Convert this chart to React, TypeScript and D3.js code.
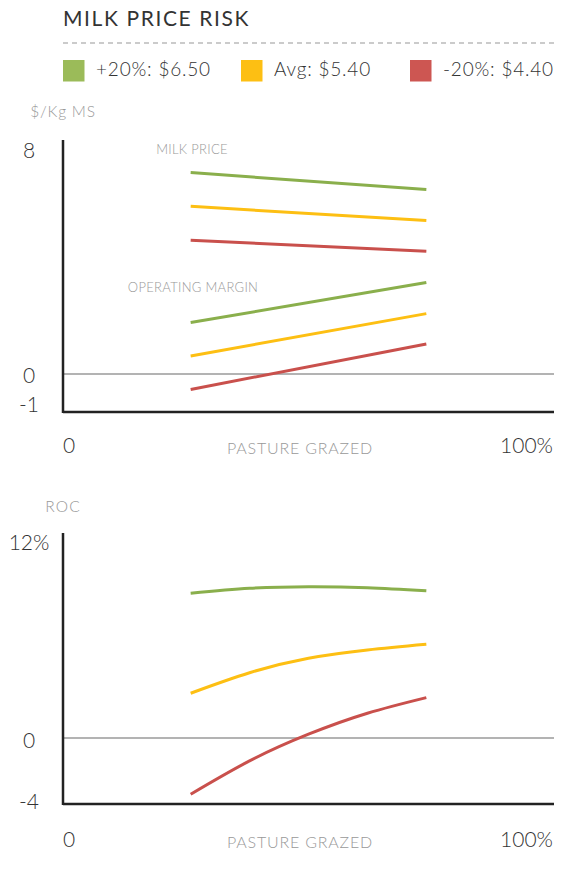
import React from "react";
import * as d3 from "d3";

const seriesNames = ["+20%: $6.50", "Avg: $5.40", "-20%: $4.40"];
const seriesColors = ["#9bbb59", "#fdbf13", "#cd5652"];
const lineColors = ["#8aaf4c", "#fdbf13", "#c9504c"];

const topX = [26, 74];
const milkPrice = [
  [7.23, 6.62],
  [6.02, 5.51],
  [4.8, 4.41],
];
const operatingMargin = [
  [1.85, 3.29],
  [0.65, 2.17],
  [-0.55, 1.08],
];

const rocX = [26, 38, 50, 62, 74];
const roc = [
  [8.89, 9.2, 9.3, 9.24, 9.05],
  [2.75, 4.01, 4.9, 5.41, 5.76],
  [-3.46, -1.41, 0.23, 1.52, 2.48],
];

const topTicks = ["8", "0", "-1"];
const topTickVals = [8, 0, -1];
const botTicks = ["12%", "0", "-4"];
const botTickVals = [12, 0, -4];

const FONT = "Lato, 'Open Sans', sans-serif";

export default function App() {
  const x = d3.scaleLinear().domain([0, 100]).range([63, 554]);
  const yTop = d3.scaleLinear().domain([-1.36, 8.4]).range([412, 140]);
  const yBot = d3.scaleLinear().domain([-4.06, 12.6]).range([804, 533]);

  const lineTop = (vals: number[]) =>
    d3
      .line<number>()
      .x((_, i) => x(topX[i]))
      .y((v) => yTop(v))(vals) as string;
  const lineBot = (vals: number[]) =>
    d3
      .line<number>()
      .x((_, i) => x(rocX[i]))
      .y((v) => yBot(v))
      .curve(d3.curveNatural)(vals) as string;

  const legendX = [63, 241, 410];

  const tickStyle = { fontFamily: FONT, fontWeight: 300, fill: "#333", fontSize: 21 } as const;
  const grayStyle = { fontFamily: FONT, fontWeight: 300, fill: "#999" } as const;

  const renderAxes = (
    y: d3.ScaleLinear<number, number>,
    ticks: string[],
    tickVals: number[],
    unit: string,
    unitY: number,
    unitX: number,
    xLabelY: number,
    baselineShift: number[],
    unitSpacing: number
  ) => {
    const [y0, y1] = y.range();
    return (
      <g>
        <line x1={x(0)} x2={x(100)} y1={y(0)} y2={y(0)} stroke="#9a9a9a" strokeWidth={1.5} />
        <line x1={x(0)} x2={x(0)} y1={y1} y2={y0 + 1} stroke="#222" strokeWidth={2.5} />
        <line x1={x(0)} x2={x(100)} y1={y0} y2={y0} stroke="#222" strokeWidth={2.5} />
        {ticks.map((t, i) => (
          <text key={t} x={29} y={y(tickVals[i]) + baselineShift[i]} textAnchor="middle" style={tickStyle}>
            {t}
          </text>
        ))}
        <text x={unitX} y={unitY} textAnchor="middle" style={{ ...grayStyle, fontSize: 15.5, letterSpacing: unitSpacing }}>
          {unit}
        </text>
        <text x={63} y={xLabelY} style={tickStyle}>
          0
        </text>
        <text x={300} y={xLabelY + 1} textAnchor="middle" style={{ ...grayStyle, fontSize: 16, letterSpacing: 0.8 }}>
          PASTURE GRAZED
        </text>
        <text x={553} y={xLabelY} textAnchor="end" style={tickStyle}>
          100%
        </text>
      </g>
    );
  };

  return (
    <svg
      width={562}
      height={883}
      style={{ position: "absolute", left: 0, top: 0, background: "#fff" }}
    >
      <text x={63} y={26} style={{ fontFamily: FONT, fontSize: 21, fill: "#333", letterSpacing: 1.6 }}>
        MILK PRICE RISK
      </text>
      <line x1={63} x2={556} y1={43} y2={43} stroke="#bbb" strokeWidth={1.5} strokeDasharray="5,4" />
      {seriesNames.map((n, i) => (
        <g key={n}>
          <rect x={legendX[i]} y={60} width={21.5} height={21.5} fill={seriesColors[i]} />
          <text
            x={legendX[i] + 33}
            y={76}
            style={{ fontFamily: FONT, fontWeight: 300, fontSize: 19, fill: "#333", letterSpacing: 0.8 }}
          >
            {n}
          </text>
        </g>
      ))}

      {renderAxes(yTop, topTicks, topTickVals, "$/Kg MS", 117, 63, 453, [7, 9, 10], 0.8)}
      <text x={192} y={154} textAnchor="middle" style={{ ...grayStyle, fontSize: 13, letterSpacing: 0.3 }}>
        MILK PRICE
      </text>
      <text x={193} y={292} textAnchor="middle" style={{ ...grayStyle, fontSize: 13, letterSpacing: 0.3 }}>
        OPERATING MARGIN
      </text>
      {milkPrice.map((s, i) => (
        <path key={"mp" + i} d={lineTop(s)} fill="none" stroke={lineColors[i]} strokeWidth={3} />
      ))}
      {operatingMargin.map((s, i) => (
        <path key={"om" + i} d={lineTop(s)} fill="none" stroke={lineColors[i]} strokeWidth={3} />
      ))}

      {renderAxes(yBot, botTicks, botTickVals, "ROC", 512, 63, 847, [7, 10, 6], 1.2)}
      {roc.map((s, i) => (
        <path key={"roc" + i} d={lineBot(s)} fill="none" stroke={lineColors[i]} strokeWidth={3} />
      ))}
    </svg>
  );
}
